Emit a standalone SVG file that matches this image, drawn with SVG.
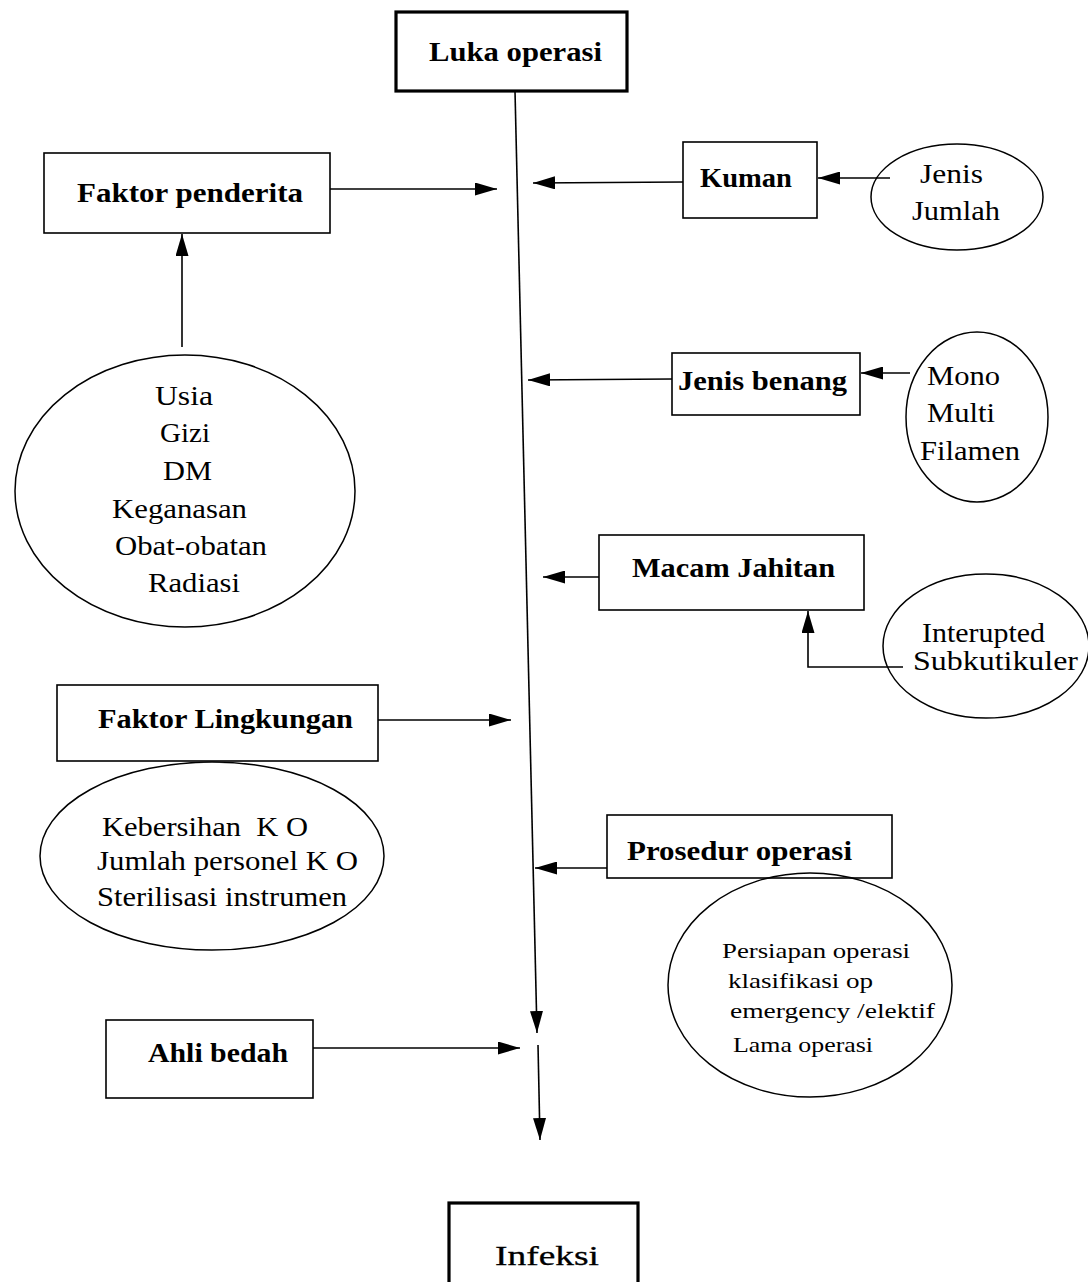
<svg xmlns="http://www.w3.org/2000/svg" width="1088" height="1282" viewBox="0 0 1088 1282">
<style>
.box{fill:#fff;stroke:#000;stroke-width:1.6}
.thick{stroke-width:3.2}
.ell{fill:none;stroke:#000;stroke-width:1.5}
.lbl{font-family:"Liberation Serif","Times New Roman",Times,serif;font-weight:bold;font-size:27px;fill:#000}
.txt{font-family:"Liberation Serif","Times New Roman",Times,serif;font-size:27px;fill:#000}
.sm{font-family:"Liberation Serif","Times New Roman",Times,serif;font-size:21px;fill:#000}
.con{fill:none;stroke:#000;stroke-width:1.6}
</style>
<defs>
<marker id="ah" markerUnits="userSpaceOnUse" markerWidth="22" markerHeight="13" refX="22" refY="6.5" orient="auto">
<path d="M0,0 L22,6.5 L0,13 z" fill="#000"/>
</marker>
</defs>
<rect width="1088" height="1282" fill="#fff"/>

<g id="connectors">
<line class="con" x1="515" y1="91" x2="537" y2="1033" marker-end="url(#ah)"/>
<line class="con" x1="538" y1="1045" x2="540" y2="1140" marker-end="url(#ah)"/>
<line class="con" x1="330" y1="189" x2="497" y2="189" marker-end="url(#ah)"/>
<line class="con" x1="182" y1="347" x2="182" y2="234" marker-end="url(#ah)"/>
<line class="con" x1="683" y1="182" x2="533" y2="183" marker-end="url(#ah)"/>
<line class="con" x1="890" y1="178" x2="818" y2="178" marker-end="url(#ah)"/>
<line class="con" x1="672" y1="379" x2="528" y2="380" marker-end="url(#ah)"/>
<line class="con" x1="910" y1="373" x2="861" y2="373" marker-end="url(#ah)"/>
<line class="con" x1="599" y1="577" x2="543" y2="577" marker-end="url(#ah)"/>
<polyline class="con" points="903,667 808,667 808,611" marker-end="url(#ah)"/>
<line class="con" x1="378" y1="720" x2="511" y2="720" marker-end="url(#ah)"/>
<line class="con" x1="607" y1="868" x2="535" y2="868" marker-end="url(#ah)"/>
<line class="con" x1="313" y1="1048" x2="520" y2="1048" marker-end="url(#ah)"/>
</g>

<g id="luka-operasi">
<rect class="box thick" x="396" y="12" width="231" height="79"/>
<text class="lbl" x="429" y="61" font-size="31" textLength="173" lengthAdjust="spacingAndGlyphs">Luka operasi</text>
</g>

<g id="faktor-penderita">
<rect class="box" x="44" y="153" width="286" height="80"/>
<text class="lbl" x="77" y="202" textLength="226" lengthAdjust="spacingAndGlyphs">Faktor penderita</text>
</g>

<g id="faktor-penderita-list">
<ellipse class="ell" cx="185" cy="491" rx="170" ry="136"/>
<text class="txt" x="155" y="405" textLength="58" lengthAdjust="spacingAndGlyphs">Usia</text>
<text class="txt" x="160" y="442" textLength="50" lengthAdjust="spacingAndGlyphs">Gizi</text>
<text class="txt" x="163" y="480" textLength="49" lengthAdjust="spacingAndGlyphs">DM</text>
<text class="txt" x="112" y="518" textLength="135" lengthAdjust="spacingAndGlyphs">Keganasan</text>
<text class="txt" x="115" y="555" textLength="152" lengthAdjust="spacingAndGlyphs">Obat-obatan</text>
<text class="txt" x="148" y="592" textLength="92" lengthAdjust="spacingAndGlyphs">Radiasi</text>
</g>

<g id="kuman">
<rect class="box" x="683" y="142" width="134" height="76"/>
<text class="lbl" x="700" y="187" textLength="92" lengthAdjust="spacingAndGlyphs">Kuman</text>
</g>

<g id="kuman-list">
<ellipse class="ell" cx="957" cy="197" rx="86" ry="53"/>
<text class="txt" x="920" y="183" textLength="63" lengthAdjust="spacingAndGlyphs">Jenis</text>
<text class="txt" x="912" y="220" textLength="88" lengthAdjust="spacingAndGlyphs">Jumlah</text>
</g>

<g id="jenis-benang">
<rect class="box" x="672" y="353" width="188" height="62"/>
<text class="lbl" x="678" y="390" textLength="169" lengthAdjust="spacingAndGlyphs">Jenis benang</text>
</g>

<g id="jenis-benang-list">
<ellipse class="ell" cx="977" cy="417" rx="71" ry="85"/>
<text class="txt" x="927" y="385" textLength="73" lengthAdjust="spacingAndGlyphs">Mono</text>
<text class="txt" x="927" y="422" textLength="68" lengthAdjust="spacingAndGlyphs">Multi</text>
<text class="txt" x="920" y="460" textLength="100" lengthAdjust="spacingAndGlyphs">Filamen</text>
</g>

<g id="macam-jahitan">
<rect class="box" x="599" y="535" width="265" height="75"/>
<text class="lbl" x="632" y="577" textLength="203" lengthAdjust="spacingAndGlyphs">Macam Jahitan</text>
</g>

<g id="macam-jahitan-list">
<ellipse class="ell" cx="986" cy="646" rx="103" ry="72"/>
<text class="txt" x="922" y="642" textLength="123" lengthAdjust="spacingAndGlyphs">Interupted</text>
<text class="txt" x="913" y="670" textLength="165" lengthAdjust="spacingAndGlyphs">Subkutikuler</text>
</g>

<g id="faktor-lingkungan">
<rect class="box" x="57" y="685" width="321" height="76"/>
<text class="lbl" x="98" y="728" textLength="255" lengthAdjust="spacingAndGlyphs">Faktor Lingkungan</text>
</g>

<g id="faktor-lingkungan-list">
<ellipse class="ell" cx="212" cy="856" rx="172" ry="94"/>
<text class="txt" x="102" y="836" font-size="26" xml:space="preserve" textLength="206" lengthAdjust="spacingAndGlyphs">Kebersihan  K O</text>
<text class="txt" x="97" y="870" font-size="26" textLength="261" lengthAdjust="spacingAndGlyphs">Jumlah personel K O</text>
<text class="txt" x="97" y="906" font-size="26" textLength="250" lengthAdjust="spacingAndGlyphs">Sterilisasi instrumen</text>
</g>

<g id="prosedur-operasi">
<rect class="box" x="607" y="815" width="285" height="63"/>
<text class="lbl" x="627" y="860" textLength="225" lengthAdjust="spacingAndGlyphs">Prosedur operasi</text>
</g>

<g id="prosedur-operasi-list">
<ellipse class="ell" cx="810" cy="985" rx="142" ry="112"/>
<text class="sm" x="722" y="958" textLength="188" lengthAdjust="spacingAndGlyphs">Persiapan operasi</text>
<text class="sm" x="728" y="988" textLength="145" lengthAdjust="spacingAndGlyphs">klasifikasi op</text>
<text class="sm" x="730" y="1018" textLength="205" lengthAdjust="spacingAndGlyphs">emergency /elektif</text>
<text class="sm" x="733" y="1052" textLength="140" lengthAdjust="spacingAndGlyphs">Lama operasi</text>
</g>

<g id="ahli-bedah">
<rect class="box" x="106" y="1020" width="207" height="78"/>
<text class="lbl" x="148" y="1062" textLength="140" lengthAdjust="spacingAndGlyphs">Ahli bedah</text>
</g>

<g id="infeksi">
<rect class="box thick" x="449" y="1203" width="189" height="86"/>
<text class="txt" x="495" y="1265" font-size="36" stroke="#000" stroke-width="0.3" textLength="104" lengthAdjust="spacingAndGlyphs">Infeksi</text>
</g>
</svg>
